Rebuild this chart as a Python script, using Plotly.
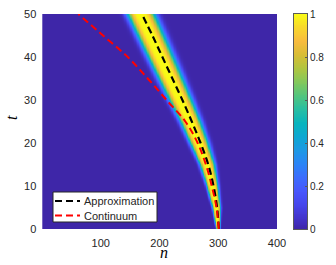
import numpy as np
import plotly.graph_objects as go

# Curve samples
t_samples = [0, 5, 10, 15, 20, 25, 30, 35, 40, 45, 50]
approx_n = [301, 298, 292, 283, 270, 255, 239, 222, 205, 188, 170]
continuum_n = [301, 297, 289, 279, 265, 244, 212, 180, 146, 104, 62]
# bright ridge of the heat map: peak position and half-width (n units) at the same t samples
ridge_n = [300, 297, 290, 281, 267, 252, 235, 218, 201, 184, 167]
ridge_width = [3.5, 7, 10, 13, 16, 18, 20, 21.5, 22.7, 23.6, 24.3]

x_ticks = [100, 200, 300, 400]
y_ticks = [0, 10, 20, 30, 40, 50]
cb_ticks = [0, 0.2, 0.4, 0.6, 0.8, 1]
cb_labels = ["0", "0.2", "0.4", "0.6", "0.8", "1"]
legend_names = ["Approximation", "Continuum"]
legend_colors = ["#000000", "#ff0000"]

n_grid = np.arange(1, 401)
t_grid = np.linspace(0, 50, 217)
centers = np.interp(t_grid, t_samples, ridge_n)
widths = np.interp(t_grid, t_samples, ridge_width)
d = n_grid[None, :] - centers[:, None]
wl = widths[:, None] * 0.95
wr = widths[:, None] * 1.05
z = np.where(d < 0, np.exp(-np.abs(d / wl) ** 3.5), np.exp(-np.abs(d / wr) ** 3.5))

parula = [
    [0.000, "rgb(62,38,168)"],
    [0.048, "rgb(66,51,201)"],
    [0.111, "rgb(70,69,235)"],
    [0.175, "rgb(72,86,252)"],
    [0.238, "rgb(60,108,253)"],
    [0.302, "rgb(43,132,246)"],
    [0.365, "rgb(29,152,228)"],
    [0.429, "rgb(13,167,210)"],
    [0.492, "rgb(8,180,189)"],
    [0.556, "rgb(40,190,163)"],
    [0.619, "rgb(82,197,126)"],
    [0.683, "rgb(131,200,91)"],
    [0.746, "rgb(176,197,64)"],
    [0.810, "rgb(216,189,53)"],
    [0.873, "rgb(248,187,62)"],
    [0.937, "rgb(248,216,44)"],
    [1.000, "rgb(249,251,21)"],
]

W, H = 336, 265
L, R, T, B = 42.5, 277, 14, 229
CB_L, CB_R = 294, 307

def px(x):
    return x / W

def py(y):
    return 1 - y / H

fig = go.Figure()
fig.add_trace(go.Heatmap(
    x=n_grid, y=t_grid, z=z, zmin=0, zmax=1, colorscale=parula,
    showscale=False, hoverinfo="skip", xaxis="x", yaxis="y",
))
fig.add_trace(go.Scatter(
    x=approx_n, y=t_samples, mode="lines", name=legend_names[0], showlegend=False,
    line=dict(color=legend_colors[0], width=2.2, dash="7px,4px", shape="spline"),
))
fig.add_trace(go.Scatter(
    x=continuum_n, y=t_samples, mode="lines", name=legend_names[1], showlegend=False,
    line=dict(color=legend_colors[1], width=2, dash="7px,4px", shape="spline"),
))

# colorbar as its own heatmap
cb_vals = np.linspace(0, 1, 256)
fig.add_trace(go.Heatmap(
    x=[0], y=cb_vals, z=cb_vals[:, None], zmin=0, zmax=1, colorscale=parula,
    showscale=False, hoverinfo="skip", xaxis="x2", yaxis="y2",
))

font_main = "Liberation Sans, Arial, sans-serif"
fig.update_layout(
    template="none",
    width=W, height=H,
    margin=dict(l=0, r=0, t=0, b=0),
    paper_bgcolor="white", plot_bgcolor="rgb(62,38,168)",
    font=dict(family=font_main, size=11, color="#262626"),
    showlegend=False,
    xaxis=dict(
        domain=[px(L), px(R)], anchor="y",
        range=[1, 400], tickvals=x_ticks, showgrid=False, zeroline=False,
        ticks="outside", ticklen=4, tickcolor="rgba(0,0,0,0)", showline=False,
        automargin=False, ticklabeloverflow="allow",
        tickfont=dict(size=11, color="#262626"),
    ),
    yaxis=dict(
        domain=[py(B), py(T)], anchor="x",
        range=[0, 50], tickvals=y_ticks, showgrid=False, zeroline=False,
        ticks="outside", ticklen=3, tickcolor="rgba(0,0,0,0)", showline=False,
        automargin=False, ticklabeloverflow="allow",
        tickfont=dict(size=11, color="#262626"),
    ),
    xaxis2=dict(
        domain=[px(CB_L), px(CB_R)], anchor="y2", range=[-0.5, 0.5],
        showticklabels=False, ticks="", showgrid=False, zeroline=False,
        showline=True, mirror=True, linecolor="#5a5a5a", linewidth=1, automargin=False,
    ),
    yaxis2=dict(
        domain=[py(B), py(T)], anchor="x2", range=[0, 1], side="right",
        tickvals=cb_ticks, ticktext=cb_labels, ticks="inside", ticklen=2,
        tickcolor="#5a5a5a", showgrid=False, zeroline=False,
        showline=True, mirror=True, linecolor="#5a5a5a", linewidth=1, automargin=False,
        ticklabeloverflow="allow",
        tickfont=dict(size=10, color="#262626"),
    ),
)

# axis titles
fig.add_annotation(text="<i>n</i>", x=px(164), y=py(252.5), xref="paper", yref="paper",
                   showarrow=False, xanchor="center", yanchor="middle", borderpad=0,
                   font=dict(family="Liberation Serif, serif", size=16, color="#000000"))
fig.add_annotation(text="<i>t</i>", x=px(11), y=py(118), xref="paper", yref="paper",
                   showarrow=False, xanchor="center", yanchor="middle", textangle=-90,
                   font=dict(family="Liberation Serif, serif", size=16, color="#000000"))

# legend box (drawn by hand to match the compact layout)
fig.add_shape(type="rect", xref="paper", yref="paper",
              x0=px(53), x1=px(157), y0=py(222), y1=py(192),
              fillcolor="white", line=dict(color="#262626", width=1), layer="above")
for i, (name, col) in enumerate(zip(legend_names, legend_colors)):
    yc = 201 + 14.5 * i
    fig.add_shape(type="line", xref="paper", yref="paper",
                  x0=px(55), x1=px(80), y0=py(yc), y1=py(yc),
                  line=dict(color=col, width=2, dash="7px,4px"), layer="above")
    fig.add_annotation(text=name, x=px(81.5), y=py(yc), xref="paper", yref="paper",
                       showarrow=False, xanchor="left", yanchor="middle",
                       font=dict(family=font_main, size=11, color="#262626"))

fig.write_html("out.html", config={"displayModeBar": False},
               post_script="document.body.style.margin='0px';")
